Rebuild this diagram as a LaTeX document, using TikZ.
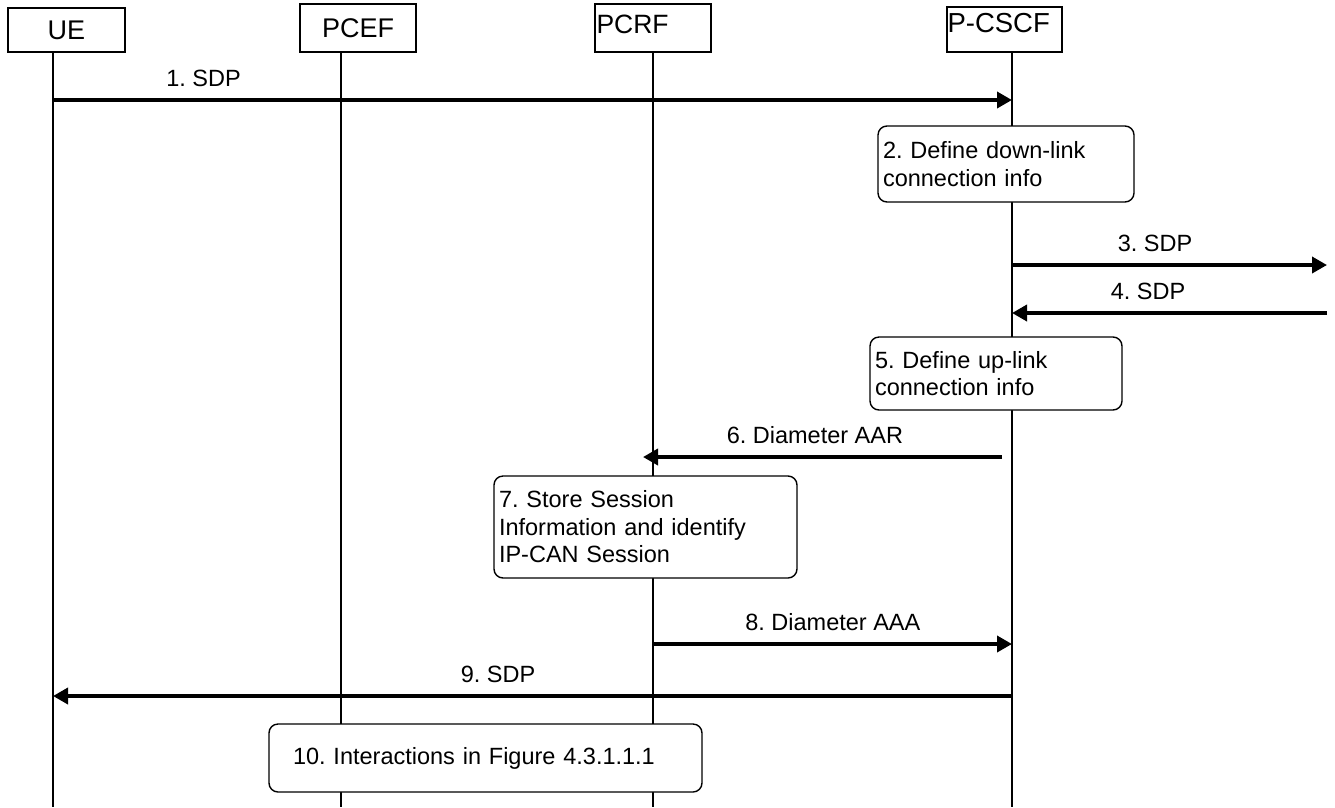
\documentclass[tikz,border=0pt]{standalone}
\usepackage{fontspec}
\setmainfont{Liberation Sans}
\usetikzlibrary{arrows.meta}
\frenchspacing

\begin{document}
\begin{tikzpicture}[x=1pt,y=-1pt,
            actor/.style={shape=rectangle, draw, line width=1.4pt, fill=white, inner sep=0pt, font=\fontsize{27}{30}\selectfont},
            life/.style={line width=1.4pt},
            stepbox/.style={shape=rectangle, rounded corners=9pt, draw, line width=1.4pt, fill=white, align=left, inner xsep=5pt, font=\fontsize{23.5}{27.5}\selectfont},
            msg/.style={line width=3.6pt, -{Triangle[length=15pt,width=16pt]}},
            lbl/.style={above=11pt, inner sep=0pt, font=\fontsize{23.5}{27}\selectfont}]
        \useasboundingbox (0,0) rectangle (1335,807);

        % entities
        \node[actor, minimum width=117pt, minimum height=44pt, text depth=-4pt] (UE) at (66.5,30) {UE};
        \node[actor, minimum width=116pt, minimum height=48pt] (PCEF) at (358,28) {PCEF};
        \node[actor, minimum width=116pt, minimum height=48pt,
              label={[anchor=north west, inner sep=0pt, xshift=2pt, yshift=-11pt, font=\fontsize{26.5}{28}\selectfont]north west:PCRF}] (PCRF) at (653,28) {};
        \node[actor, minimum width=115pt, minimum height=45pt,
              label={[anchor=north west, inner sep=0pt, xshift=1pt, yshift=-7pt, font=\fontsize{27.5}{28}\selectfont]north west:P-CSCF}] (PCSCF) at (1004.5,29.5) {};

        % lifelines
        \coordinate (ue) at (53,52);
        \coordinate (pcef) at (341,52);
        \coordinate (pcrf) at (653,52);
        \coordinate (pcscf) at (1012,52);
        \coordinate (east) at (1327,52);
        \draw[life] (ue) -- (ue |- 0,807);
        \draw[life] (pcef) -- (pcef |- 0,807);
        \draw[life] (pcrf) -- (pcrf |- 0,807);
        \draw[life] (pcscf) -- (pcscf |- 0,807);

        % flow
        \draw[msg] (ue |- 0,100) -- node[lbl, pos=.157]{1. SDP} (pcscf |- 0,100);
        \node[stepbox, text width=246pt, minimum height=76pt] (s2) at (1006,164) {2. Define down-link\\connection info};
        \draw[msg] (pcscf |- 0,265) -- node[lbl, pos=.454]{3. SDP} (east |- 0,265);
        \draw[msg] (east |- 0,313) -- node[lbl, pos=.568]{4. SDP} (pcscf |- 0,313);
        \node[stepbox, text width=242pt, minimum height=73pt] (s5) at (996,373.5) {5. Define up-link\\connection info};
        \draw[msg, shorten <=10pt, shorten >=-10pt] (pcscf |- 0,457) -- node[lbl, pos=.549]{6. Diameter AAR} (pcrf |- 0,457);
        \node[stepbox, text width=293pt, minimum height=102pt] (s7) at (645.5,527) {7. Store Session\\Information and identify\\IP-CAN Session};
        \draw[msg] (pcrf |- 0,644) -- node[lbl, pos=.501]{8. Diameter AAA} (pcscf |- 0,644);
        \draw[msg] (pcscf |- 0,696) -- node[lbl, pos=.536]{9. SDP} (ue |- 0,696);
        \node[stepbox, inner xsep=24pt, text width=385pt, minimum height=68pt] (s10) at (485.5,758) {10. Interactions in Figure 4.3.1.1.1};
\end{tikzpicture}
\end{document}
